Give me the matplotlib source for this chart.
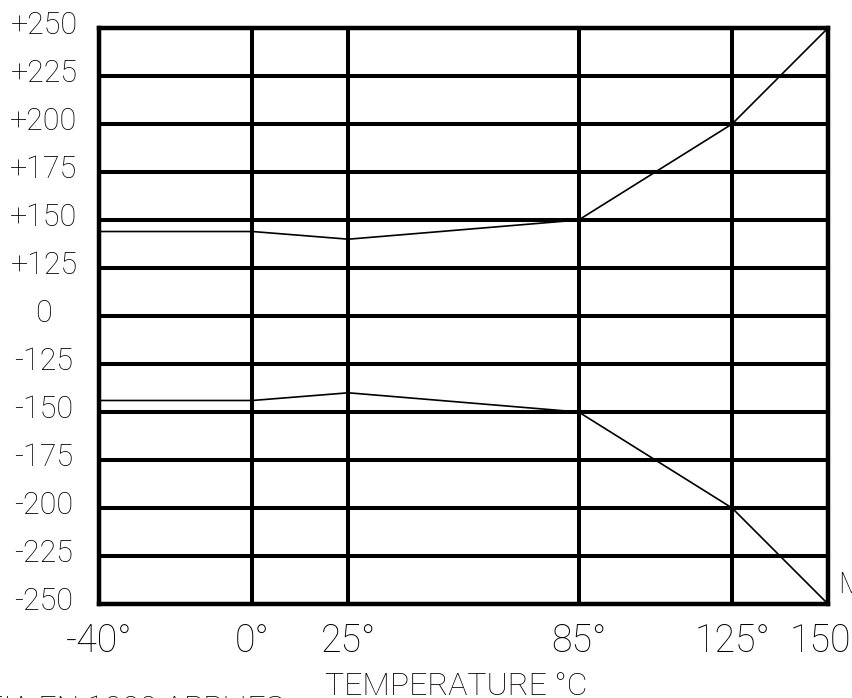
import numpy as np
import matplotlib
matplotlib.use('Agg')
import matplotlib.pyplot as plt

dpi = 100

# data
temps = [-40, 0, 25, 85, 125, 150]
upper_limit = [144, 144, 140, 150, 200, 250]
lower_limit = [-144, -144, -140, -150, -200, -250]

x_labels = ['-40°', '0°', '25°', '85°', '125°', '150°']
y_levels = [250, 225, 200, 175, 150, 125, 0, -125, -150, -175, -200, -225, -250]
y_labels = ['+250', '+225', '+200', '+175', '+150', '+125', '0',
            '-125', '-150', '-175', '-200', '-225', '-250']

# y axis is drawn with equal spacing between the listed levels
levels_sorted = np.array(sorted(y_levels), dtype=float)
level_idx = np.arange(len(levels_sorted), dtype=float)


def fwd(v):
    return np.interp(v, levels_sorted, level_idx)


def inv(p):
    return np.interp(p, level_idx, levels_sorted)


plt.rcParams['font.family'] = ['Roboto', 'DejaVu Sans']
plt.rcParams['font.weight'] = 'light'

W, H = 853, 698
fig = plt.figure(figsize=(W / dpi, H / dpi), dpi=dpi)
ax = fig.add_axes([99 / W, 1 - 604 / H, (828 - 99) / W, (604 - 28) / H])

ax.set_yscale('function', functions=(fwd, inv))
ax.set_xlim(-40, 150)
ax.set_ylim(-250, 250)
ax.set_xticks(temps)
ax.set_yticks(y_levels)
ax.tick_params(length=0, labelbottom=False, labelleft=False)
ax.grid(True, color='black', lw=2.9, zorder=1)
ax.set_axisbelow(True)
for s in ax.spines.values():
    s.set_linewidth(3.2)
    s.set_color('black')

# limit curves
ax.plot(temps, upper_limit, color='black', lw=1.2, zorder=3)
ax.plot(temps, lower_limit, color='black', lw=1.2, zorder=3)

# y labels
for v, lab in zip(y_levels, y_labels):
    ax.annotate(lab, xy=(0, v), xycoords=('axes fraction', 'data'),
                xytext=(-55, -5.5), textcoords='offset pixels',
                ha='center', va='baseline', fontsize=22, annotation_clip=False)

# x labels
for t, lab in zip(temps, x_labels):
    ax.annotate(lab, xy=(t, 0), xycoords=('data', 'axes fraction'),
                xytext=(0, -48), textcoords='offset pixels',
                ha='center', va='baseline', fontsize=27, annotation_clip=False)

# axis title and notes
fig.text(325 / W, 3 / H, 'TEMPERATURE °C', ha='left', va='baseline', fontsize=23)
fig.text(285 / W, -20 / H, 'EIA EN 1000 APPLIES', ha='right', va='baseline', fontsize=23)
fig.text(838 / W, 105 / H, 'M', ha='left', va='baseline', fontsize=21)

fig.savefig('out.png', dpi=dpi)
